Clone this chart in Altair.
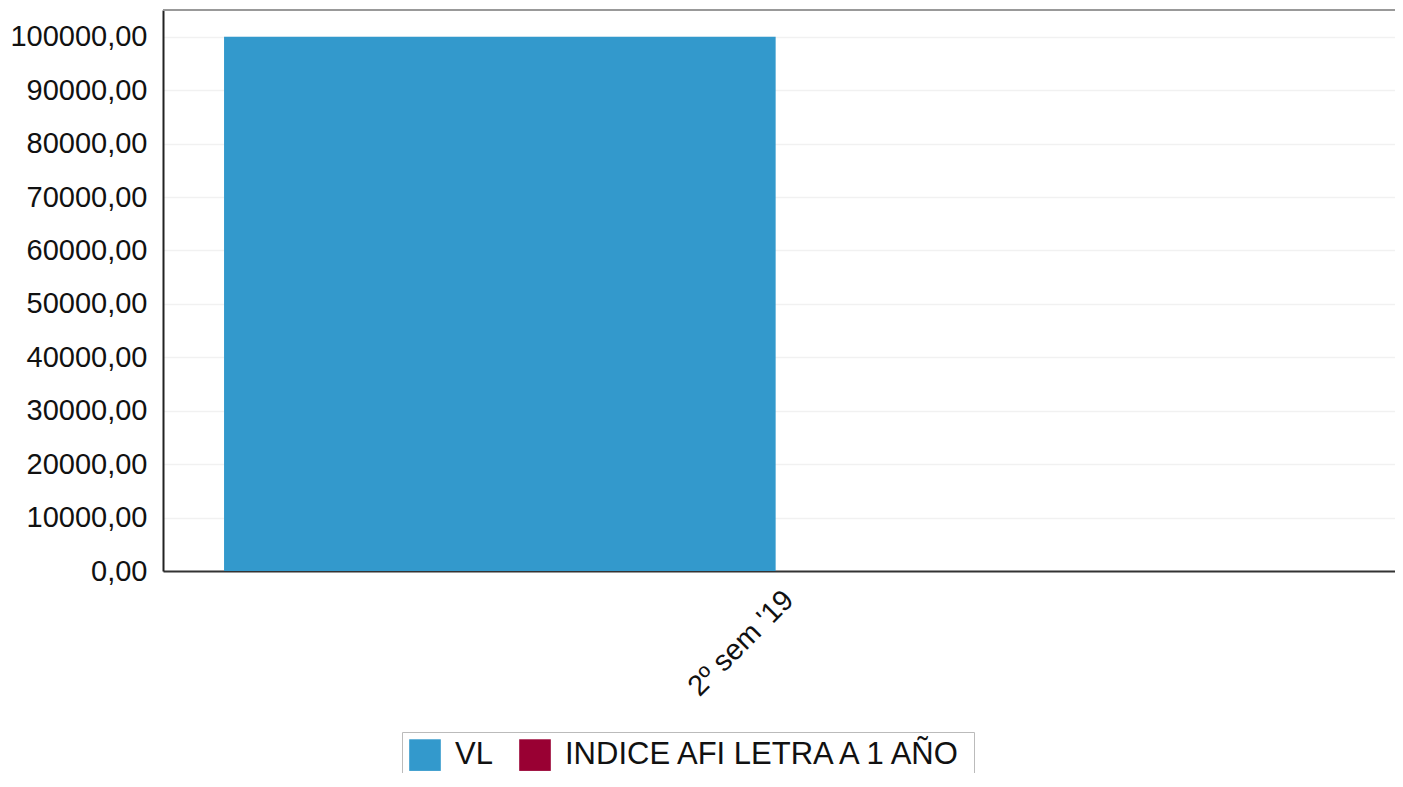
import altair as alt
import pandas as pd

categories = ["2º sem '19"]
series = ["VL", "INDICE AFI LETRA A 1 AÑO"]
values_vl = [100000.0]
values_indice = [0.0]
colors = ["#3399cc", "#990033"]

rows = []
for i, c in enumerate(categories):
    rows.append({"periodo": c, "serie": series[0], "valor": values_vl[i]})
    rows.append({"periodo": c, "serie": series[1], "valor": values_indice[i]})
df = pd.DataFrame(rows)

FONT = "Liberation Sans"
FS = 29
W = 1232
H = 561

bars = alt.Chart(df).mark_bar().encode(
    x=alt.X("periodo:N", title=None, sort=categories,
            scale=alt.Scale(paddingInner=0, paddingOuter=0.055),
            axis=alt.Axis(labelAngle=-45, labelFontSize=FS, labelFont=FONT,
                          labelColor="#111", ticks=False, domainColor="#333",
                          domainWidth=2, labelPadding=14, grid=False,
                          labelLimit=0)),
    xOffset=alt.XOffset("serie:N", sort=series,
                        scale=alt.Scale(paddingInner=0.012, paddingOuter=0)),
    y=alt.Y("valor:Q", title=None,
            scale=alt.Scale(domain=[0, 105000], nice=False),
            axis=alt.Axis(values=list(range(0, 100001, 10000)),
                          labelExpr="replace(format(datum.value, '.2f'), '.', ',')",
                          labelFontSize=FS, labelFont=FONT, labelColor="#111",
                          ticks=False, domainColor="#222", domainWidth=2,
                          labelPadding=16, gridColor="#f1f1f1", gridWidth=1.5)),
    color=alt.Color("serie:N", sort=series,
                    scale=alt.Scale(domain=series, range=colors),
                    legend=alt.Legend(title=None, orient="none", direction="horizontal",
                                      legendX=239, legendY=722,
                                      symbolType="square", symbolSize=1000,
                                      symbolStrokeWidth=0,
                                      labelFontSize=31, labelFont=FONT, labelColor="#111",
                                      labelLimit=0,
                                      strokeColor="#bbbbbb", padding=7,
                                      columnPadding=26, labelOffset=14)),
)

top_border = alt.Chart(pd.DataFrame({"b": [0]})).mark_rule(
    color="#999999", strokeWidth=2
).encode(x=alt.value(0), x2=alt.value(W), y=alt.value(0))

chart = alt.layer(bars, top_border).properties(
    width=W,
    height=H,
    autosize=alt.AutoSizeParams(type="none"),
    padding={"left": 155, "top": 2, "right": 0, "bottom": 202},
).configure_view(
    stroke=None
)

chart.save("out.html", embed_options={"renderer": "svg", "actions": False})
